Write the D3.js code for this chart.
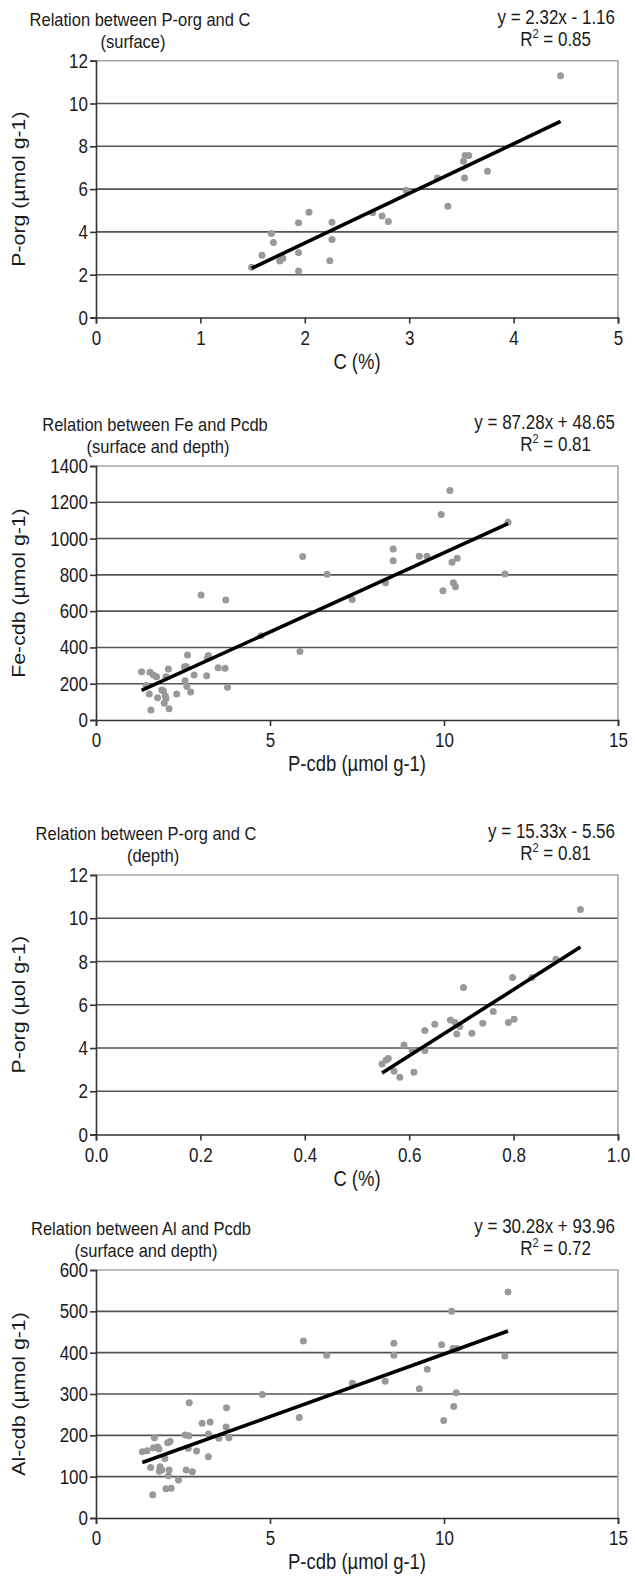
<!DOCTYPE html>
<html>
<head>
<meta charset="utf-8">
<script src="https://cdn.jsdelivr.net/npm/d3@7"></script>
<style>
  body { margin: 0; background: #fff; }
  text { font-family: "Liberation Sans", Arial, sans-serif; fill: #1a1a1a; }
</style>
</head>
<body>
<div id="main"></div>
<script>
// panel 1: P-org vs C (surface)
const porgSurface = [
  [1.49,2.35],[1.59,2.91],[1.68,3.93],[1.70,3.50],[1.76,2.64],[1.79,2.77],[1.94,4.43],[1.94,3.03],
  [1.94,2.17],[2.04,4.92],[2.24,2.65],[2.26,3.65],[2.26,4.45],[2.65,4.90],[2.74,4.74],[2.80,4.49],
  [2.97,5.95],[3.27,6.52],[3.37,5.20],[3.52,7.30],[3.535,7.57],[3.57,7.57],[3.53,6.52],[3.75,6.83],
  [4.45,11.3]
];
// panel 2: Fe-cdb vs P-cdb
const feCdb = [
  [1.31,266],[1.55,263],[1.65,248],[1.74,239],[1.44,190],[1.53,143],[1.58,55],[1.77,123],[1.89,165],
  [1.94,160],[1.99,132],[1.96,92],[2.01,119],[2.10,62],[2.01,239],[2.08,281],[2.32,143],[2.54,294],
  [2.60,294],[2.56,217],[2.61,184],[2.72,154],[2.63,358],[2.82,248],[3.02,689],[3.18,244],[3.23,355],
  [3.20,340],[3.51,288],[3.71,285],[3.78,180],[3.73,661],[4.74,465],
  [5.86,378],[5.94,901],[6.64,803],[7.36,664],[8.32,757],[8.54,943],[8.54,878],[9.29,903],[9.51,903],
  [9.97,712],[9.92,1133],[10.17,1265],[10.23,869],[10.27,757],[10.33,735],[10.38,891],[11.75,805],
  [11.84,1090]
];
// panel 3: P-org vs C (depth)
const porgDepth = [
  [0.548,3.26],[0.556,3.45],[0.560,3.52],[0.571,2.92],[0.582,2.65],[0.590,4.14],[0.606,3.90],
  [0.609,2.88],[0.630,4.81],[0.630,3.88],[0.649,5.10],[0.679,5.30],[0.688,5.18],[0.697,4.99],
  [0.691,4.65],[0.704,6.80],[0.720,4.68],[0.741,5.15],[0.761,5.69],[0.790,5.18],[0.801,5.33],
  [0.798,7.26],[0.835,7.26],[0.881,8.10],[0.928,10.4]
];
// panel 4: Al-cdb vs P-cdb
const alCdb = [
  [2.68,279],[3.75,267],[4.78,299],[3.05,229],[3.28,232],[3.74,220],[3.23,203],[3.53,193],[3.82,194],
  [2.56,201],[2.67,199],[1.68,194],[2.06,182],[2.13,185],[1.65,170],[1.77,172],[1.81,167],[1.33,160],
  [1.47,163],[1.98,144],[2.65,169],[2.89,162],[3.23,148],[1.57,122],[1.84,124],[1.89,116],[1.82,113],
  [2.10,116],[2.08,102],[2.59,116],[2.77,112],[2.37,92],[2.01,71],[2.16,72],[1.63,56],
  [5.84,243],[5.96,428],[6.63,394],[7.37,326],[8.31,331],[8.56,423],[8.56,394],[9.29,313],[9.52,360],
  [9.93,419],[9.99,236],[10.28,270],[10.35,303],[10.26,410],[10.37,410],[10.22,500],[11.75,392],
  [11.84,547]
];

const titles = ['Relation between P-org and C', 'Relation between Fe and Pcdb',
                'Relation between P-org and C', 'Relation between Al and Pcdb'];
const subtitles = ['(surface)', '(surface and depth)', '(depth)', '(surface and depth)'];
const equations = ['y = 2.32x - 1.16', 'y = 87.28x + 48.65', 'y = 15.33x - 5.56', 'y = 30.28x + 93.96'];
const r2Values = ['0.85', '0.81', '0.81', '0.72'];
const slopes = [2.32, 87.28, 15.33, 30.28];
const intercepts = [-1.16, 48.65, -5.56, 93.96];
const xLabels = ['C (%)', 'P-cdb (\u00b5mol g-1)', 'C (%)', 'P-cdb (\u00b5mol g-1)'];
const yLabels = ['P-org (\u00b5mol g-1)', 'Fe-cdb (\u00b5mol g-1)', 'P-org (\u00b5ol g-1)', 'Al-cdb (\u00b5mol g-1)'];
const xMax = [5, 15, 1, 15];
const xTicks = [[0,1,2,3,4,5], [0,5,10,15], [0,0.2,0.4,0.6,0.8,1.0], [0,5,10,15]];
const yMax = [12, 1400, 12, 600];
const yTicks = [[0,2,4,6,8,10,12], [0,200,400,600,800,1000,1200,1400], [0,2,4,6,8,10,12], [0,100,200,300,400,500,600]];
const xFormats = ['d', 'd', '.1f', 'd'];
const series = [porgSurface, feCdb, porgDepth, alCdb];

const W = 635, H = 1578;
const left = 96, right = 618;
const panelTops = [60.7, 466, 875, 1270];
const panelBottoms = [317.5, 720, 1134.5, 1518];
const titleX = [140, 155, 146, 141];
const subtitleX = [133, 158, 153, 146];
const SY = 1.15; // the source picture is a bit taller than wide, glyphs too

const svg = d3.select('#main').append('svg')
  .attr('width', W).attr('height', H);

series.forEach((data, i) => drawPanel(i, data));

// text drawn at (x, y) with a slight vertical stretch
function label(g, x, y, size, anchor, str){
  return g.append('text')
    .attr('transform', `translate(${x},${y}) scale(1,${SY})`)
    .attr('text-anchor', anchor).attr('font-size', size).text(str);
}

function drawPanel(i, data){
  let top = panelTops[i], bottom = panelBottoms[i];
  let x = d3.scaleLinear().domain([0, xMax[i]]).range([left, right]);
  let y = d3.scaleLinear().domain([0, yMax[i]]).range([bottom, top]);
  let g = svg.append('g');

  // grid lines
  g.selectAll('.grid').data(yTicks[i].filter(t => t > 0 && t < yMax[i])).enter()
    .append('line')
    .attr('x1', left).attr('x2', right)
    .attr('y1', d => y(d)).attr('y2', d => y(d))
    .attr('stroke', '#555').attr('stroke-width', 1.6);

  // frame top/right
  g.append('path')
    .attr('d', `M${left},${top}H${right}V${bottom}`)
    .attr('fill', 'none').attr('stroke', '#a6a6a6').attr('stroke-width', 1.6);

  let xAxis = d3.axisBottom(x).tickValues(xTicks[i]).tickSize(6).tickFormat(d3.format(xFormats[i]));
  let yAxis = d3.axisLeft(y).tickValues(yTicks[i]).tickSize(6).tickFormat(d3.format('d'));

  let gx = g.append('g').attr('transform', `translate(0,${bottom})`).call(xAxis);
  let gy = g.append('g').attr('transform', `translate(${left},0)`).call(yAxis);
  [gx, gy].forEach(a => {
    a.select('.domain').attr('stroke', '#333').attr('stroke-width', 1.6);
    a.selectAll('.tick line').attr('stroke', '#333').attr('stroke-width', 1.6);
    a.selectAll('.tick text').attr('font-size', 17).attr('fill', '#1a1a1a')
      .attr('font-family', '"Liberation Sans", Arial, sans-serif');
  });
  gx.selectAll('.tick text').attr('y', 0).attr('dy', 0)
    .attr('transform', `translate(0,27) scale(1,${SY})`);
  gy.selectAll('.tick text').attr('x', 0).attr('dy', 0)
    .attr('transform', `translate(-8,6.5) scale(1,${SY})`);

  // points
  g.selectAll('.pt').data(data).enter().append('circle')
    .attr('cx', d => x(d[0])).attr('cy', d => y(d[1]))
    .attr('r', 3.5).attr('fill', '#999');

  // trend line over the data range
  let xs = d3.extent(data, d => d[0]);
  g.append('line')
    .attr('x1', x(xs[0])).attr('y1', y(slopes[i] * xs[0] + intercepts[i]))
    .attr('x2', x(xs[1])).attr('y2', y(slopes[i] * xs[1] + intercepts[i]))
    .attr('stroke', '#000').attr('stroke-width', 3.6);

  // texts
  label(g, titleX[i], top - 35, 16.5, 'middle', titles[i]);
  label(g, subtitleX[i], top - 13, 16.5, 'middle', subtitles[i]);
  label(g, 615, top - 37, 17, 'end', equations[i]);
  let r2 = label(g, 591, top - 15, 17, 'end', '');
  r2.append('tspan').text('R');
  r2.append('tspan').attr('dy', -7).attr('font-size', 11).text('2');
  r2.append('tspan').attr('dy', 7).text(' = ' + r2Values[i]);

  label(g, (left + right) / 2, bottom + 51, 18.5, 'middle', xLabels[i]);
  g.append('text')
    .attr('transform', `translate(25,${(top + bottom) / 2}) scale(1,${SY}) rotate(-90)`)
    .attr('text-anchor', 'middle').attr('font-size', 18.5).text(yLabels[i]);
}
</script>
</body>
</html>
